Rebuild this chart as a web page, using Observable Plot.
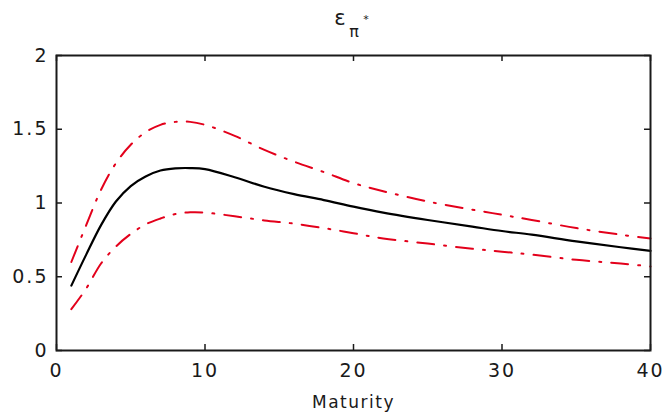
<!DOCTYPE html>
<html>
<head>
<meta charset="utf-8">
<script src="https://cdn.jsdelivr.net/npm/d3@7"></script>
<script src="https://cdn.jsdelivr.net/npm/@observablehq/plot@0.6"></script>
<style>
  html, body { margin: 0; padding: 0; background: #fff; }
  #chart svg { display: block; }
</style>
</head>
<body>
<div id="chart"></div>
<script>
// Data
const maturity = [1, 2, 3, 4, 5, 6, 7, 8, 9, 10, 12, 14, 16, 18, 20, 22, 25, 28, 30, 32, 35, 38, 40];
const estimate = [0.44, 0.65, 0.85, 1.01, 1.115, 1.18, 1.22, 1.235, 1.237, 1.23, 1.175, 1.11, 1.06, 1.02, 0.975, 0.935, 0.885, 0.84, 0.81, 0.785, 0.74, 0.70, 0.675];
const upperBand = [0.60, 0.85, 1.09, 1.27, 1.395, 1.48, 1.53, 1.55, 1.55, 1.53, 1.455, 1.36, 1.28, 1.21, 1.135, 1.08, 1.01, 0.955, 0.92, 0.885, 0.83, 0.785, 0.76];
const lowerBand = [0.28, 0.42, 0.59, 0.705, 0.79, 0.855, 0.895, 0.925, 0.937, 0.935, 0.91, 0.882, 0.86, 0.83, 0.795, 0.76, 0.725, 0.69, 0.67, 0.65, 0.615, 0.59, 0.57];
const xTicks = [0, 10, 20, 30, 40];
const yTicks = [0, 0.5, 1, 1.5, 2];
const xLabel = "Maturity";

const rows = (vals) => maturity.map((m, i) => ({m, v: vals[i]}));

const W = 669, H = 418;
const mL = 56, mR = 19, mT = 55, mB = 68;
const fw = W - mL - mR, fh = H - mT - mB;
const ink = "#1a1a1a";
const red = "#e3001b";
const tick = 6;

const chart = Plot.plot({
  width: W,
  height: H,
  marginLeft: mL,
  marginRight: mR,
  marginTop: mT,
  marginBottom: mB,
  style: {fontFamily: "'DejaVu Sans', sans-serif", background: "#fff", color: ink},
  x: {domain: [0, 40]},
  y: {domain: [0, 2]},
  marks: [
    Plot.line(rows(upperBand), {x: "m", y: "v", stroke: red, strokeWidth: 2, strokeDasharray: "17,10,2,10", curve: "catmull-rom"}),
    Plot.line(rows(lowerBand), {x: "m", y: "v", stroke: red, strokeWidth: 2, strokeDasharray: "17,10,2,10", curve: "catmull-rom"}),
    Plot.line(rows(estimate), {x: "m", y: "v", stroke: "#000", strokeWidth: 2.2, curve: "catmull-rom"}),
    // inward ticks (MATLAB style) on all four sides
    Plot.tickX(xTicks, {x: d => d, stroke: ink, strokeWidth: 1.5, insetTop: fh - tick}),
    Plot.tickX(xTicks, {x: d => d, stroke: ink, strokeWidth: 1.5, insetBottom: fh - tick}),
    Plot.tickY(yTicks, {y: d => d, stroke: ink, strokeWidth: 1.5, insetRight: fw - tick}),
    Plot.tickY(yTicks, {y: d => d, stroke: ink, strokeWidth: 1.5, insetLeft: fw - tick}),
    Plot.frame({stroke: ink, strokeWidth: 2}),
    Plot.axisX({ticks: xTicks, tickSize: 0, tickPadding: 13, tickFormat: d => String(d), fontSize: 19, label: null, fill: ink}),
    Plot.axisY({ticks: yTicks, tickSize: 0, tickPadding: 8, tickFormat: d => String(d), fontSize: 19, label: null, fill: ink}),
    Plot.text([xLabel], {text: d => d, frameAnchor: "bottom", dy: 57, fontSize: 17, fill: ink, lineAnchor: "bottom"})
  ]
});

// letter spacing to mimic the wide original lettering
d3.select(chart).selectAll("g[aria-label='x-axis tick label'] text, g[aria-label='y-axis tick label'] text").style("letter-spacing", "2px");
d3.select(chart).selectAll("g[aria-label='text'] text").style("letter-spacing", "1.5px");

// Title: ε with subscript π and superscript *
const cx = chart.scale("x").apply(20);
const title = d3.select(chart).append("text")
  .attr("font-family", "'DejaVu Sans', sans-serif")
  .attr("fill", ink);
title.append("tspan").attr("x", cx - 13).attr("y", 25).attr("font-size", 21).text("ε");
title.append("tspan").attr("x", cx + 1).attr("y", 37).attr("font-size", 16).text("π");
title.append("tspan").attr("x", cx + 13).attr("y", 23).attr("font-size", 11).text("*");

document.getElementById("chart").appendChild(chart);
</script>
</body>
</html>
